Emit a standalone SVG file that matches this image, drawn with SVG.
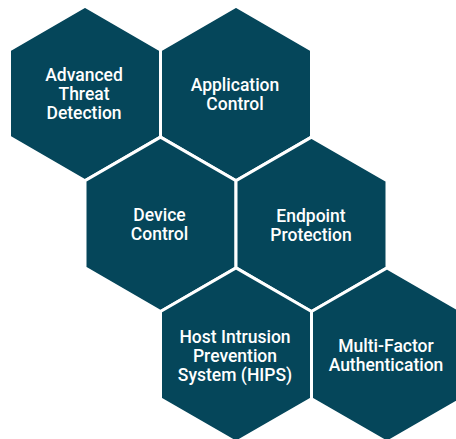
<svg xmlns="http://www.w3.org/2000/svg" xmlns:xlink="http://www.w3.org/1999/xlink" width="456" height="439" viewBox="0 0 456 439">
<style>
.hex{fill:#05465A;stroke:#ffffff;stroke-width:3;stroke-linejoin:miter}
.lbl{fill:#ffffff;font-family:Roboto,"Liberation Sans",sans-serif;font-weight:500;font-size:17.5px;text-anchor:middle}
</style>
<defs>
<polygon id="hexshape" points="0,-87.2 75.5,-43.6 75.5,43.6 0,87.2 -75.5,43.6 -75.5,-43.6"/>
</defs>
<rect width="456" height="439" fill="#ffffff"/>
<g id="connectors"></g>
<g id="advanced-threat-detection">
<use xlink:href="#hexshape" class="hex" transform="translate(85,93.5)"/>
<text class="lbl" x="84" y="81">Advanced</text>
<text class="lbl" x="84" y="100">Threat</text>
<text class="lbl" x="84" y="119">Detection</text>
</g>
<g id="application-control">
<use xlink:href="#hexshape" class="hex" transform="translate(236,93.5)"/>
<text class="lbl" x="235" y="91">Application</text>
<text class="lbl" x="235" y="110">Control</text>
</g>
<g id="device-control">
<use xlink:href="#hexshape" class="hex" transform="translate(160.5,224.3)"/>
<text class="lbl" x="159.5" y="221">Device</text>
<text class="lbl" x="159.5" y="240">Control</text>
</g>
<g id="endpoint-protection">
<use xlink:href="#hexshape" class="hex" transform="translate(311.5,224.3)"/>
<text class="lbl" x="311" y="222">Endpoint</text>
<text class="lbl" x="311" y="241">Protection</text>
</g>
<g id="hips">
<use xlink:href="#hexshape" class="hex" transform="translate(236,355.1)"/>
<text class="lbl" x="235" y="343">Host Intrusion</text>
<text class="lbl" x="235" y="362">Prevention</text>
<text class="lbl" x="235" y="381">System (HIPS)</text>
</g>
<g id="multi-factor-authentication">
<use xlink:href="#hexshape" class="hex" transform="translate(387,355.1)"/>
<text class="lbl" x="386" y="352">Multi-Factor</text>
<text class="lbl" x="386" y="371">Authentication</text>
</g>
</svg>
